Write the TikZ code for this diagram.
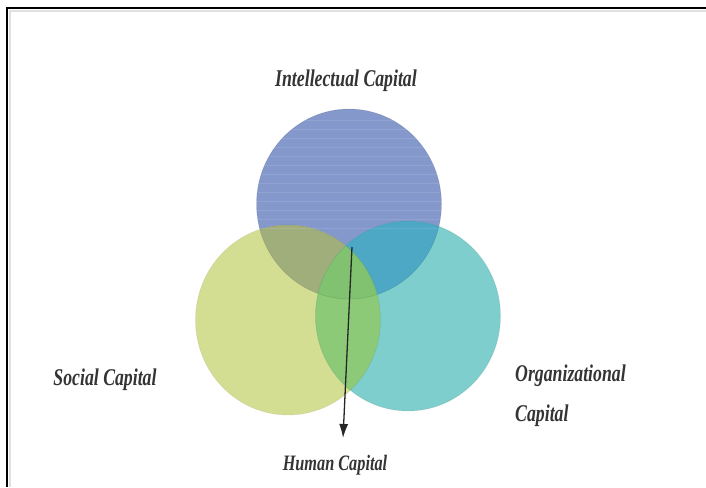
\documentclass[tikz,border=0pt]{standalone}
\usepackage{fontspec}
\newfontfamily\capfont[FakeStretch=0.74]{Liberation Serif}
\usetikzlibrary{arrows.meta}
\definecolor{cTop}{RGB}{132,152,204}
\definecolor{cLeft}{RGB}{212,222,146}
\definecolor{cRight}{RGB}{126,206,206}
\definecolor{cTL}{RGB}{160,174,124}
\definecolor{cTR}{RGB}{76,168,196}
\definecolor{cLR}{RGB}{140,202,120}
\definecolor{cTLR}{RGB}{128,194,112}
\definecolor{inkgray}{RGB}{52,52,52}
\tikzset{
  caplabel/.style={text=inkgray, inner sep=0pt,
    font=\capfont\bfseries\itshape\fontsize{24}{40}\selectfont},
  smallcap/.style={caplabel,
    font=\capfont\bfseries\itshape\fontsize{22}{30}\selectfont},
  pointer/.style={draw=black!85, line width=1.3pt,
    -{Latex[length=14pt,width=9pt]}},
  frameline/.style={line width=2pt, black}
}
\begin{document}
\begin{tikzpicture}[x=1pt,y=-1pt]
  \useasboundingbox (0,0) rectangle (706,487);
  \fill[white] (0,0) rectangle (706,487);

  % frame
  \draw[black!12, line width=2pt] (10,487) -- (10,11) -- (706,11);
  \draw[frameline] (7,487) -- (7,8) -- (706,8);

  % circle centres and radii
  \coordinate (T) at (349,204);
  \coordinate (L) at (288,320);
  \coordinate (R) at (408,316);
  \def\rx{92.5pt}
  \def\ry{95pt}
  \def\disc{ellipse [x radius=\rx, y radius=\ry]}

  % single circles
  \fill[cTop] (T) \disc;
  \fill[cLeft] (L) \disc;
  \fill[cRight] (R) \disc;

  % pairwise overlaps
  \begin{scope}
    \clip (T) \disc;
    \fill[cTL] (L) \disc;
    \fill[cTR] (R) \disc;
  \end{scope}
  \begin{scope}
    \clip (L) \disc;
    \fill[cLR] (R) \disc;
  \end{scope}
  % centre region
  \begin{scope}
    \clip (T) \disc;
    \clip (L) \disc;
    \fill[cTLR] (R) \disc;
  \end{scope}

  % faint horizontal banding in the upper circle
  \begin{scope}
    \clip (T) \disc;
    \foreach \yy in {120,129,...,230}
      \draw[white, opacity=0.11, line width=0.8pt] (250,\yy) -- (450,\yy);
  \end{scope}

  % soft outlines
  \draw[black, opacity=0.08, line width=0.8pt] (T) \disc;
  \draw[black, opacity=0.06, line width=0.8pt] (L) \disc;
  \draw[black, opacity=0.06, line width=0.8pt] (R) \disc;

  % labels
  \node[caplabel] (intel) at (346,81) {Intellectual Capital};
  \node[caplabel] (social) at (105,380) {Social Capital};
  \node[caplabel, anchor=north west, align=left] (org) at (515,365)
    {Organizational\\Capital};
  \node[smallcap] (human) at (335,465) {Human Capital};

  % arrow
  \coordinate (hub) at (352,247);
  \coordinate (tip) at (343,438);
  \draw[pointer] (hub) -- (tip);
\end{tikzpicture}
\end{document}
